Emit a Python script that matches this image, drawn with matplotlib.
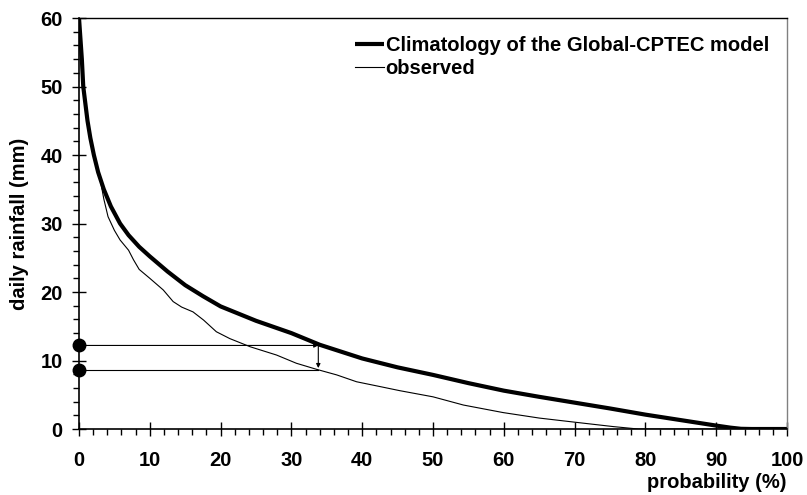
import matplotlib
matplotlib.use("Agg")
import matplotlib.pyplot as plt

# Curvas de permanencia de la lluvia diaria (probabilidad de excedencia)
prob_model = [0, 0.2, 0.4, 0.6, 0.9, 1.2, 1.6, 2.1, 2.7, 3.5, 4.5, 5.8, 7.0, 8.5, 10, 12.5,
              15, 17.5, 20, 25, 30, 34, 40, 45, 50, 55, 60, 65, 70, 75, 80, 85,
              90, 92, 93.5, 95, 100]
rain_model = [60, 57, 54, 50, 47.5, 45, 42.5, 40, 37.5, 35, 32.5, 30, 28.3, 26.6, 25.2, 23,
              21, 19.4, 17.9, 15.8, 14.0, 12.3, 10.3, 9.0, 7.9, 6.7, 5.6, 4.7, 3.85, 3.0, 2.1, 1.3,
              0.5, 0.2, 0.03, 0, 0]

prob_obs = [0, 0.2, 0.4, 0.6, 0.9, 1.2, 1.6, 2.0, 2.5, 3.0, 3.5, 4.1, 5.0, 5.8, 7.0,
            7.7, 8.5, 10, 11.9, 13.3, 14.5, 16.1, 17.6, 19.4, 21.3, 24.2, 27.9, 30.7,
            33.6, 36.4, 39.2, 42.5, 45.3, 50, 54.3, 59.9, 65, 70, 75.5, 79, 100]
rain_obs = [60, 57, 54, 50, 47.5, 45, 42.5, 40, 38.3, 36.4, 33.6, 31, 29, 27.6, 26.1,
            24.7, 23.3, 22.0, 20.3, 18.6, 17.8, 17.1, 15.9, 14.2, 13.2, 12.0, 10.8, 9.6,
            8.7, 7.9, 6.9, 6.2, 5.6, 4.7, 3.5, 2.4, 1.6, 1.0, 0.35, 0, 0]

# Lectura de ejemplo en la probabilidad de 34 %
prob_ref = 33.8
rain_ref_model = 12.2
rain_ref_obs = 8.6

plt.rcParams["font.family"] = ["Liberation Sans", "DejaVu Sans"]
plt.rcParams["font.weight"] = "bold"

fig = plt.figure(figsize=(8.07, 4.95), dpi=100)
ax = fig.add_axes([0.0979, 0.1333, 0.8773, 0.8303])

ax.plot(prob_model, rain_model, color="black", lw=3.0,
        label="Climatology of the Global-CPTEC model", solid_capstyle="butt")
ax.plot(prob_obs, rain_obs, color="black", lw=0.8, label="observed")

# Lineas de referencia y flecha de diferencia
ax.annotate("", xy=(prob_ref, rain_ref_model), xytext=(0, rain_ref_model),
            arrowprops=dict(arrowstyle="-|>", color="black", lw=0.8,
                            mutation_scale=6, shrinkA=0, shrinkB=0))
ax.plot([0, prob_ref], [rain_ref_obs, rain_ref_obs], color="black", lw=0.8)
ax.annotate("", xy=(prob_ref, rain_ref_obs + 0.3), xytext=(prob_ref, rain_ref_model),
            arrowprops=dict(arrowstyle="-|>", color="black", lw=0.8,
                            mutation_scale=6, shrinkA=0, shrinkB=0))
ax.plot([0, 0], [rain_ref_model, rain_ref_obs], "o", color="black", ms=9,
        clip_on=False, zorder=5)

ax.set_xlim(0, 100)
ax.set_ylim(0, 60)
ax.set_xticks(range(0, 101, 10))
ax.set_xticks(range(0, 101, 2), minor=True)
ax.set_yticks(range(0, 61, 10))
ax.set_yticks(range(0, 61, 2), minor=True)

ax.tick_params(axis="both", which="major", direction="inout", length=9.5,
               width=1.0, labelsize=14.5)
ax.tick_params(axis="both", which="minor", direction="out", length=4.3, width=1.0)
ax.tick_params(axis="x", which="major", pad=11)
ax.tick_params(axis="y", which="major", pad=7)
for lbl in ax.get_xticklabels() + ax.get_yticklabels():
    lbl.set_fontweight("bold")

ax.spines["left"].set_linewidth(1.2)
ax.spines["bottom"].set_linewidth(1.2)
ax.spines["top"].set_linewidth(1.0)
ax.spines["right"].set_linewidth(1.0)
ax.spines["right"].set_color("#808080")

ax.set_ylabel("daily rainfall (mm)", fontsize=14.5, fontweight="bold")
ax.yaxis.set_label_coords(-0.071, 0.5)
ax.set_xlabel("probability (%)", fontsize=14.5, fontweight="bold")
ax.xaxis.set_label_coords(1.0, -0.106)
ax.xaxis.label.set_horizontalalignment("right")
ax.xaxis.label.set_verticalalignment("top")

leg = ax.legend(loc="upper right", frameon=False,
                fontsize=14.5, handlelength=1.4, handletextpad=0.1, labelspacing=0.2)
for t in leg.get_texts():
    t.set_fontweight("bold")

fig.savefig("out.png", dpi=100)
